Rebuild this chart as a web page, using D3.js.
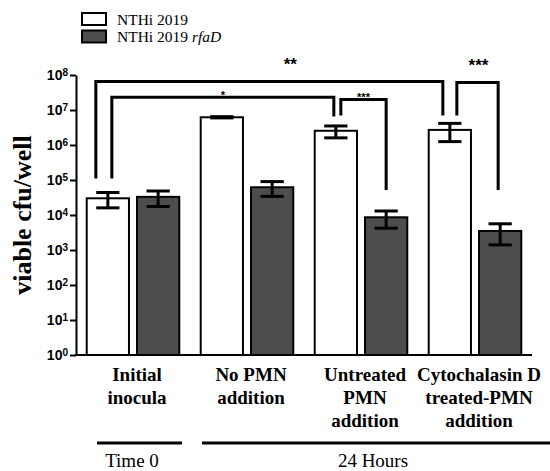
<!DOCTYPE html>
<html>
<head>
<meta charset="UTF-8">
<title>viable cfu/well</title>
<script src="https://d3js.org/d3.v7.min.js"></script>
<style>
  body { margin: 0; background: #fff; }
  svg { display: block; }
  .serif { font-family: "Liberation Serif", "Times New Roman", serif; }
  .sans { font-family: "Liberation Sans", Arial, sans-serif; }
</style>
</head>
<body>
<svg id="chart" width="550" height="471"></svg>
<script>
// data
const groups = ["Initial inocula", "No PMN addition", "Untreated PMN addition", "Cytochalasin D treated-PMN addition"];
const groupLines = [["Initial", "inocula"], ["No PMN", "addition"], ["Untreated", "PMN", "addition"], ["Cytochalasin D", "treated-PMN", "addition"]];
const series = ["NTHi 2019", "NTHi 2019 rfaD"];
const wildMean = [3.0e4, 6.2e6, 2.55e6, 2.7e6];
const wildErr = [1.4e4, 0.25e6, 0.95e6, 1.45e6];
const mutMean = [3.3e4, 6.2e4, 8.6e3, 3.5e3];
const mutErr = [1.55e4, 2.8e4, 4.4e3, 2.1e3];
const yTicks = [0, 1, 2, 3, 4, 5, 6, 7, 8];
// significance brackets: [group, series] ends, leg bottoms and top level in cfu
const brackets = [
  { a: [0, 0], b: [3, 0], aLow: 1.1e5, bLow: 7e6, top: 6.5e7, label: "**", big: true, adx: -12, bdx: -7, ldx: 21 },
  { a: [0, 0], b: [2, 0], aLow: 1.1e5, bLow: 6.5e6, top: 2.3e7, label: "*", big: false, adx: 4, bdx: -2, ldx: 0 },
  { a: [2, 0], b: [2, 1], aLow: 7e6, bLow: 5.2e4, top: 2.0e7, label: "***", big: false, adx: 5, bdx: 0, ldx: 0 },
  { a: [3, 0], b: [3, 1], aLow: 7e6, bLow: 5.2e4, top: 6.1e7, label: "***", big: true, adx: 7, bdx: -2, ldx: 1 }
];

const rows = groups.map((g, i) => ({
  group: g,
  vals: [
    { s: series[0], mean: wildMean[i], err: wildErr[i] },
    { s: series[1], mean: mutMean[i], err: mutErr[i] }
  ]
}));

const svg = d3.select("#chart");
const fills = ["#ffffff", "#4d4d4d"];

const y = d3.scaleLog().domain([1, 1e8]).range([355, 75]);
const x0 = d3.scaleBand().domain(groups).range([76, 532]).paddingInner(0.188).paddingOuter(0.094);
const x1 = d3.scaleBand().domain(series).range([0, x0.bandwidth()]).paddingInner(0.16).paddingOuter(0);

const barCenter = (g, s) => x0(groups[g]) + x1(series[s]) + x1.bandwidth() / 2;

// bars
const gg = svg.append("g").selectAll("g").data(rows).join("g")
  .attr("transform", d => `translate(${x0(d.group)},0)`);

gg.selectAll("rect").data(d => d.vals).join("rect")
  .attr("x", d => x1(d.s))
  .attr("y", d => y(d.mean))
  .attr("width", x1.bandwidth())
  .attr("height", d => y(1) - y(d.mean))
  .attr("fill", (d, i) => fills[i])
  .attr("stroke", "#000")
  .attr("stroke-width", 2);

// error bars
const capW = x1.bandwidth() * 0.55;
gg.selectAll("g.err").data(d => d.vals).join("g").attr("class", "err")
  .each(function(d) {
    const cx = x1(d.s) + x1.bandwidth() / 2;
    const g = d3.select(this);
    const hi = y(d.mean + d.err), lo = y(d.mean - d.err);
    g.append("line").attr("x1", cx).attr("x2", cx).attr("y1", hi).attr("y2", lo);
    g.append("line").attr("x1", cx - capW / 2).attr("x2", cx + capW / 2).attr("y1", hi).attr("y2", hi);
    g.append("line").attr("x1", cx - capW / 2).attr("x2", cx + capW / 2).attr("y1", lo).attr("y2", lo);
  })
  .selectAll("line").attr("stroke", "#000").attr("stroke-width", 3);

// y axis
const yAxis = svg.append("g").attr("transform", "translate(76,0)")
  .call(d3.axisLeft(y).tickValues(yTicks.map(p => Math.pow(10, p))).tickSize(6).tickSizeOuter(0).tickFormat(""));
yAxis.select(".domain").attr("stroke-width", 2);
yAxis.selectAll(".tick line").attr("stroke-width", 2);
yAxis.selectAll(".tick").each(function(d, i) {
  const t = d3.select(this).append("text")
    .attr("class", "sans")
    .attr("x", -8).attr("dy", "0.35em")
    .attr("text-anchor", "end")
    .attr("fill", "#000")
    .style("font-size", "14px").style("font-weight", "bold");
  t.append("tspan").text("10");
  t.append("tspan").attr("dy", "-0.45em").style("font-size", "10px").text(yTicks[i]);
});

// x baseline
svg.append("line").attr("x1", 75).attr("x2", 532).attr("y1", y(1)).attr("y2", y(1))
  .attr("stroke", "#000").attr("stroke-width", 2);

// y label
svg.append("text").attr("class", "serif")
  .attr("transform", "translate(31,215) rotate(-90)")
  .attr("text-anchor", "middle")
  .style("font-size", "26px").style("font-weight", "bold")
  .text("viable cfu/well");

// category labels
groupLines.forEach((lines, i) => {
  const cx = x0(groups[i]) + x0.bandwidth() / 2 + 4;
  const t = svg.append("text").attr("class", "serif")
    .attr("text-anchor", "middle")
    .style("font-size", "19px").style("font-weight", "bold");
  lines.forEach((l, j) => t.append("tspan").attr("x", cx).attr("y", 381 + j * 22.8).text(l));
});

// time annotations
svg.append("line").attr("x1", 97).attr("x2", 182).attr("y1", 443).attr("y2", 443)
  .attr("stroke", "#000").attr("stroke-width", 3);
svg.append("line").attr("x1", 202).attr("x2", 550).attr("y1", 443).attr("y2", 443)
  .attr("stroke", "#000").attr("stroke-width", 3);
svg.append("text").attr("class", "serif").attr("x", 132).attr("y", 467)
  .attr("text-anchor", "middle").style("font-size", "19px").text("Time 0");
svg.append("text").attr("class", "serif").attr("x", 373).attr("y", 467)
  .attr("text-anchor", "middle").style("font-size", "19px").text("24 Hours");

// significance brackets
brackets.forEach(b => {
  const xa = barCenter(b.a[0], b.a[1]) + b.adx;
  const xb = barCenter(b.b[0], b.b[1]) + b.bdx;
  const yt = y(b.top);
  svg.append("path")
    .attr("d", `M${xa},${y(b.aLow)}V${yt}H${xb}V${y(b.bLow)}`)
    .attr("fill", "none").attr("stroke", "#000").attr("stroke-width", 3);
  svg.append("text").attr("class", "sans")
    .attr("x", (xa + xb) / 2 + b.ldx)
    .attr("y", b.big ? yt - 12 : yt + 2)
    .attr("text-anchor", "middle")
    .style("font-size", b.big ? "17px" : "11px").style("font-weight", "bold")
    .text(b.label);
});

// legend
const leg = svg.append("g");
series.forEach((s, i) => {
  leg.append("rect").attr("x", 82).attr("y", 13 + i * 17.5).attr("width", 24).attr("height", 12)
    .attr("fill", fills[i]).attr("stroke", "#000").attr("stroke-width", 2);
  const t = leg.append("text").attr("class", "serif").attr("x", 117).attr("y", 24.5 + i * 17.5)
    .style("font-size", "15.5px");
  if (i === 0) t.text(s);
  else {
    t.append("tspan").text("NTHi 2019 ");
    t.append("tspan").style("font-style", "italic").text("rfaD");
  }
});
</script>
</body>
</html>
